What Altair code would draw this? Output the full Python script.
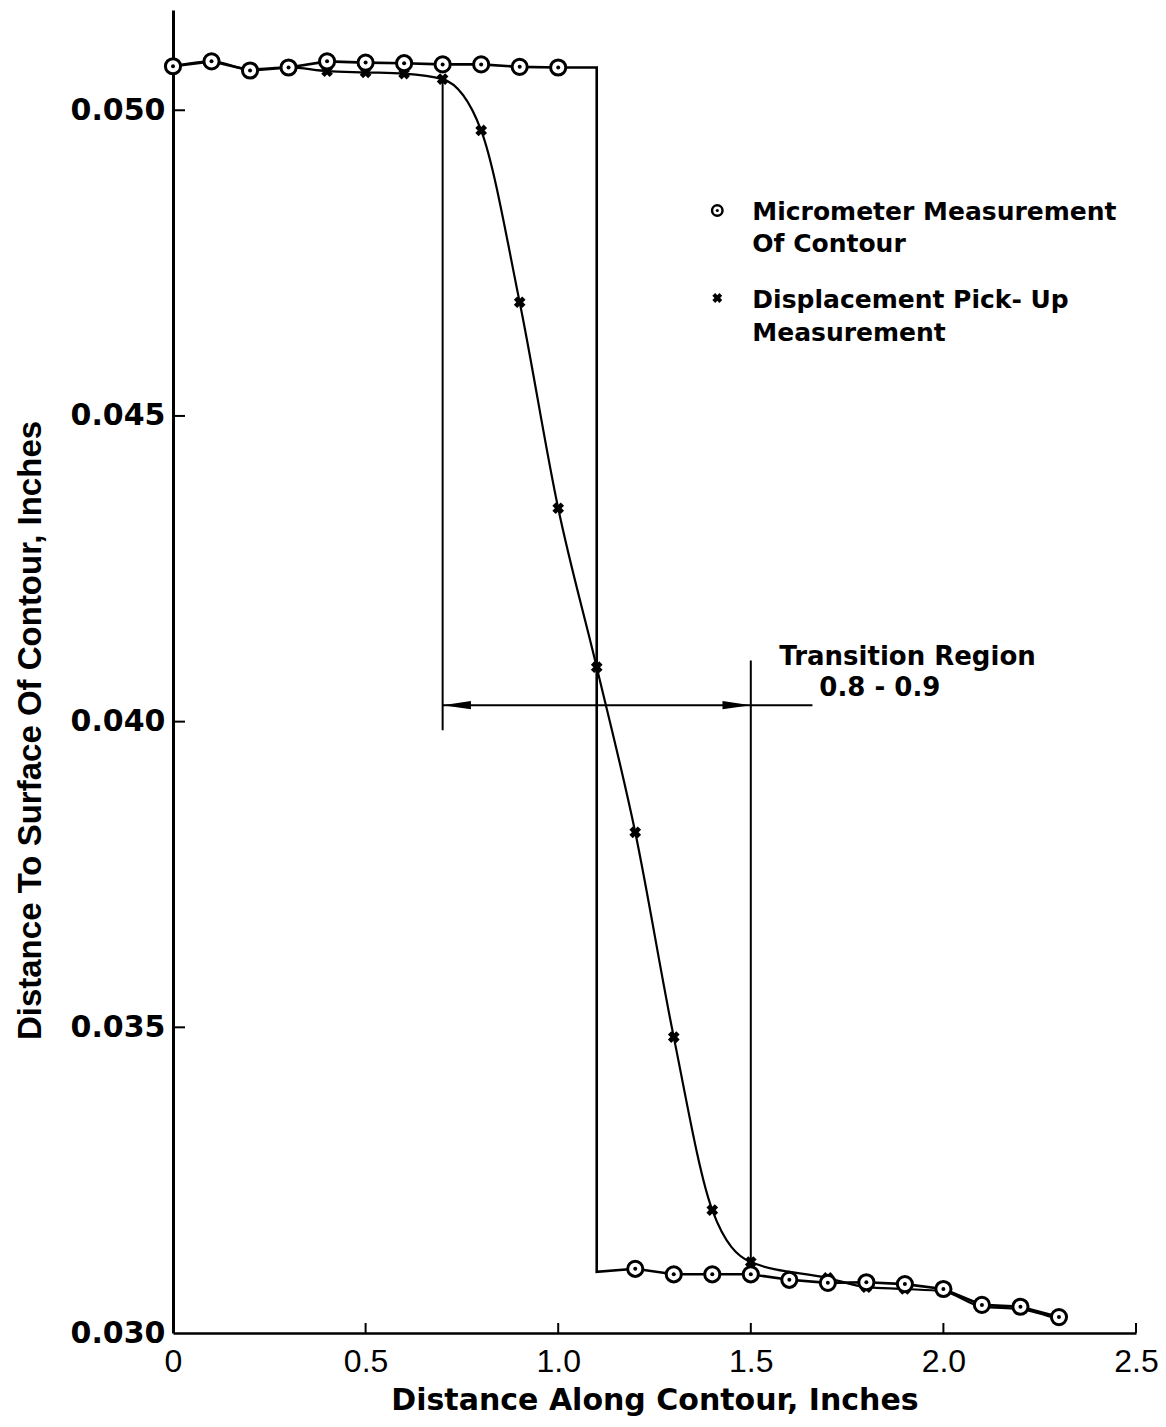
import altair as alt
import pandas as pd

# ---------------- data ----------------
micro_x = [0.0, 0.1, 0.2, 0.3, 0.4, 0.5, 0.6, 0.7, 0.8, 0.9, 1.0,
           1.2, 1.3, 1.4, 1.5, 1.6, 1.7, 1.8, 1.9, 2.0, 2.1, 2.2, 2.3]
micro_y = [0.05072, 0.05080, 0.05065, 0.05070, 0.05080, 0.05078, 0.05077,
           0.05075, 0.05075, 0.05071, 0.05070,
           0.03105, 0.03096, 0.03096, 0.03096, 0.03087, 0.03082, 0.03083,
           0.03080, 0.03072, 0.03046, 0.03043, 0.03026]
# step of the micrometer contour at x = 1.1
step_x = [1.1, 1.1]
step_y = [0.05070, 0.03100]

disp_x = [0.0, 0.1, 0.2, 0.3, 0.4, 0.5, 0.6, 0.7, 0.8, 0.9, 1.0, 1.1,
          1.2, 1.3, 1.4, 1.5, 1.7, 1.8, 1.9, 2.0, 2.1, 2.2, 2.3]
disp_y = [0.05072, 0.05080, 0.05067, 0.05070, 0.05064, 0.05062, 0.05060,
          0.05051, 0.04967, 0.04686, 0.04349, 0.04089, 0.03819, 0.03484,
          0.03201, 0.03116, 0.03090, 0.03075, 0.03072, 0.03068, 0.03043,
          0.03039, 0.03022]

# transition-region construction lines
vline_x = [0.7, 1.5]
vline_y1 = [0.05051, 0.04100]
vline_y2 = [0.03986, 0.03096]
arrow_y = 0.04027
arrow_x1 = 0.7
arrow_x2 = 1.66
arrowhead_x = [0.7, 1.5]

x_ticks = [0.0, 0.5, 1.0, 1.5, 2.0, 2.5]
y_ticks = [0.030, 0.035, 0.040, 0.045, 0.050]

legend_labels = ["Micrometer Measurement", "Of Contour",
                 "Displacement Pick- Up", "Measurement"]
legend_label_x = [1.504, 1.504, 1.504, 1.504]
legend_label_y = [0.04833, 0.04782, 0.04690, 0.04636]
legend_marker_x = 1.413
legend_marker_y = [0.04836, 0.04693]

annot_text = ["Transition Region", "0.8 - 0.9"]
annot_x = [1.574, 1.678]
annot_y = [0.04092, 0.04042]

# ---------------- chart ----------------
W, H = 963, 1323
X_DOM = [0.0, 2.5]
Y_DOM = [0.030, 0.05164]
xs = alt.Scale(domain=X_DOM, nice=False, zero=False)
ys = alt.Scale(domain=Y_DOM, nice=False, zero=False)

micro_line_df = pd.DataFrame({
    "x": micro_x[:11] + step_x + micro_x[11:],
    "y": micro_y[:11] + step_y + micro_y[11:],
})
micro_line_df["order"] = range(len(micro_line_df))
micro_df = pd.DataFrame({"x": micro_x, "y": micro_y})
disp_df = pd.DataFrame({"x": disp_x, "y": disp_y})

x_axis = alt.Axis(
    values=x_ticks, labelExpr="datum.value == 0 ? '0' : format(datum.value, '.1f')",
    grid=False, ticks=False,
    domainColor="black", domainWidth=2.5, labelPadding=13,
    labelFont="Liberation Sans", labelFontSize=32, labelColor="black",
    titleFont="DejaVu Sans", titleFontSize=30, titleFontWeight="bold",
    titleColor="black", titleBaseline="alphabetic", titleY=76, titleX=W / 2,
    labelFlush=False, labelOverlap=False,
)
y_axis = alt.Axis(
    values=y_ticks, format=".3f", grid=False, ticks=False,
    domainColor="black", domainWidth=3, labelPadding=8,
    labelFont="DejaVu Sans", labelFontSize=30, labelFontWeight="bold",
    labelColor="black", labelFlush=False, labelOverlap=False,
    titleFont="Liberation Sans", titleFontSize=33,
    titleFontWeight="bold", titleColor="black", titleAngle=-90,
    titleAlign="center", titleBaseline="middle", titleX=-143, titleY=720,
)
X_TITLE = "Distance Along Contour, Inches"
Y_TITLE = "Distance To Surface Of Contour, Inches"


def X(field="x:Q"):
    return alt.X(field, scale=xs, axis=x_axis, title=X_TITLE)


def Y(field="y:Q"):
    return alt.Y(field, scale=ys, axis=y_axis, title=Y_TITLE)


micro_line = alt.Chart(micro_line_df).mark_line(
    color="black", strokeWidth=2.6
).encode(x=X(), y=Y(), order="order:Q")

disp_line = alt.Chart(disp_df).mark_line(
    color="black", strokeWidth=2.2, interpolate="monotone"
).encode(x=X(), y=Y())

vlines = alt.Chart(pd.DataFrame({"x": vline_x, "y": vline_y1, "y2": vline_y2})).mark_rule(
    color="black", strokeWidth=2
).encode(x=X(), y=Y(), y2="y2:Q")

hline = alt.Chart(pd.DataFrame({"x": [arrow_x1], "x2": [arrow_x2], "y": [arrow_y]})).mark_rule(
    color="black", strokeWidth=2
).encode(x=X(), x2="x2:Q", y=Y())

arrow_left = alt.Chart(pd.DataFrame({"x": [arrowhead_x[0]], "y": [arrow_y]})).mark_point(
    shape="M0,0L2,-0.3L2,0.3Z", filled=True, color="black", size=800, opacity=1
).encode(x=X(), y=Y())
arrow_right = alt.Chart(pd.DataFrame({"x": [arrowhead_x[1]], "y": [arrow_y]})).mark_point(
    shape="M0,0L-2,-0.3L-2,0.3Z", filled=True, color="black", size=800, opacity=1
).encode(x=X(), y=Y())

disp_pts = alt.Chart(disp_df).mark_point(
    shape="cross", angle=45, filled=True, color="black", size=140, opacity=1
).encode(x=X(), y=Y())

micro_pts = alt.Chart(micro_df).mark_point(
    shape="circle", filled=False, fill="white", fillOpacity=1, stroke="black",
    strokeWidth=3, size=230, opacity=1
).encode(x=X(), y=Y())
micro_dots = alt.Chart(micro_df).mark_point(
    shape="circle", filled=True, color="black", size=16, opacity=1
).encode(x=X(), y=Y())

leg_circle = alt.Chart(pd.DataFrame({"x": [legend_marker_x], "y": [legend_marker_y[0]]})).mark_point(
    shape="circle", filled=False, fill="white", fillOpacity=1, stroke="black",
    strokeWidth=2.5, size=110, opacity=1
).encode(x=X(), y=Y())
leg_dot = alt.Chart(pd.DataFrame({"x": [legend_marker_x], "y": [legend_marker_y[0]]})).mark_point(
    shape="circle", filled=True, color="black", size=10, opacity=1
).encode(x=X(), y=Y())
leg_cross = alt.Chart(pd.DataFrame({"x": [legend_marker_x], "y": [legend_marker_y[1]]})).mark_point(
    shape="cross", angle=45, filled=True, color="black", size=100, opacity=1
).encode(x=X(), y=Y())

leg_text = alt.Chart(pd.DataFrame({"x": legend_label_x, "y": legend_label_y,
                                   "t": legend_labels})).mark_text(
    align="left", baseline="middle", font="DejaVu Sans", fontSize=25,
    fontWeight="bold", color="black"
).encode(x=X(), y=Y(), text="t:N")

annot = alt.Chart(pd.DataFrame({"x": annot_x, "y": annot_y, "t": annot_text})).mark_text(
    align="left", baseline="alphabetic", font="DejaVu Sans", fontSize=26,
    fontWeight="bold", color="black"
).encode(x=X(), y=Y(), text="t:N")

xtick = alt.Chart(pd.DataFrame({"x": x_ticks[1:]})).mark_rule(
    color="black", strokeWidth=2
).encode(x=X(), y=alt.value(H), y2=alt.value(H - 10))
ytick = alt.Chart(pd.DataFrame({"y": y_ticks[1:]})).mark_rule(
    color="black", strokeWidth=2
).encode(y=Y(), x=alt.value(0), x2=alt.value(12))

chart = alt.layer(
    micro_line, disp_line, vlines, hline, arrow_left, arrow_right,
    disp_pts, micro_pts, micro_dots, leg_circle, leg_dot, leg_cross,
    leg_text, annot, xtick, ytick,
).properties(
    width=W, height=H, autosize="none",
    padding={"left": 165, "top": 2, "right": 22, "bottom": 84},
    background="white",
).configure_view(stroke=None)

chart.save("out.html", embed_options={"renderer": "svg", "actions": False})
